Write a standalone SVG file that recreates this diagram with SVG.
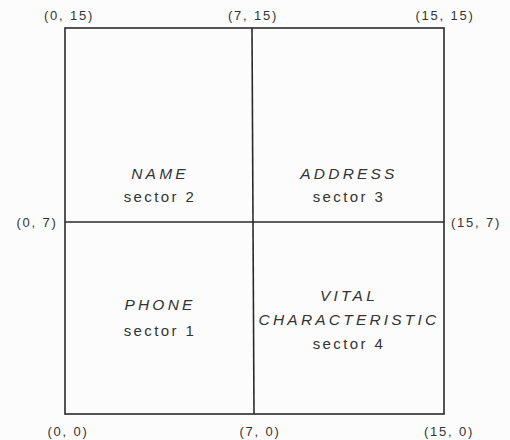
<svg xmlns="http://www.w3.org/2000/svg" width="510" height="440" viewBox="0 0 510 440">
<style>
.ln{stroke:#2a2a2a;stroke-width:1.6;fill:none}
.t{font-family:"Liberation Sans",Arial,sans-serif;fill:#333;text-anchor:middle}
.f{font-size:15.5px;font-style:italic;letter-spacing:3.2px}
.s{font-size:15px;letter-spacing:2.4px}
.c{font-size:13px;letter-spacing:1.8px}
</style>
<rect width="510" height="440" fill="#fcfcfc"/>
<g id="connectors">
<rect class="ln" x="65" y="28" width="379" height="386"/>
<line class="ln" x1="252" y1="28" x2="254" y2="414"/>
<line class="ln" x1="65" y1="222" x2="444" y2="222"/>
</g>
<g id="sector2"><text class="t f" x="160" y="179">NAME</text><text class="t s" x="160" y="202">sector 2</text></g>
<g id="sector3"><text class="t f" x="349" y="179">ADDRESS</text><text class="t s" x="349" y="202">sector 3</text></g>
<g id="sector1"><text class="t f" x="160" y="310">PHONE</text><text class="t s" x="160" y="336">sector 1</text></g>
<g id="sector4"><text class="t f" x="349" y="301">VITAL</text><text class="t f" x="349" y="325">CHARACTERISTIC</text><text class="t s" x="349" y="349">sector 4</text></g>
<g id="coords">
<text class="t c" x="69" y="20">(0, 15)</text>
<text class="t c" x="253" y="20">(7, 15)</text>
<text class="t c" x="445" y="20">(15, 15)</text>
<text class="t c" x="37" y="227">(0, 7)</text>
<text class="t c" x="476" y="227">(15, 7)</text>
<text class="t c" x="68" y="436">(0, 0)</text>
<text class="t c" x="260" y="436">(7, 0)</text>
<text class="t c" x="449" y="436">(15, 0)</text>
</g>
</svg>
